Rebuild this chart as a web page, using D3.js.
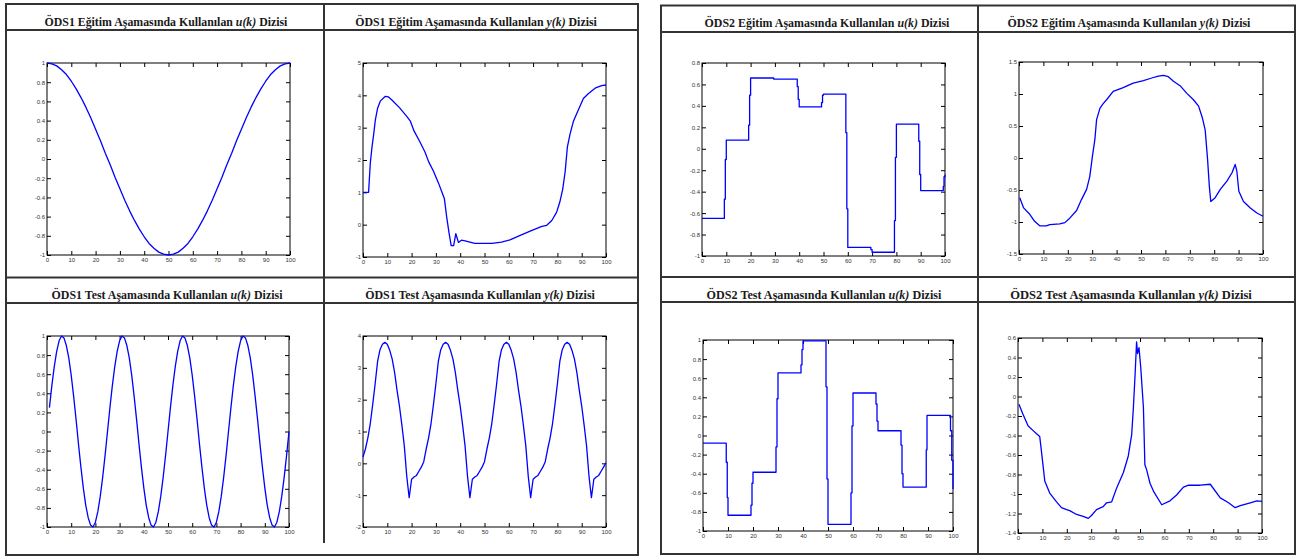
<!DOCTYPE html>
<html>
<head>
<meta charset="utf-8">
<script src="https://cdn.jsdelivr.net/npm/d3@7"></script>
<style>
  body { margin: 0; background: #fff; }
</style>
</head>
<body>
<div id="chart"></div>
<script>
/* ÖDS1 / ÖDS2 input-output sequences, 8 small MATLAB-style plots in two tables */

/* --- data --- */
const xTicks = [0, 10, 20, 30, 40, 50, 60, 70, 80, 90, 100];
const ticksU1 = [-1, -0.8, -0.6, -0.4, -0.2, 0, 0.2, 0.4, 0.6, 0.8, 1];
const ticksY1Train = [-1, 0, 1, 2, 3, 4, 5];
const ticksU2Train = [-1, -0.8, -0.6, -0.4, -0.2, 0, 0.2, 0.4, 0.6, 0.8];
const ticksY2Train = [-1.5, -1, -0.5, 0, 0.5, 1, 1.5];
const ticksY1Test = [-2, -1, 0, 1, 2, 3, 4];
const ticksY2Test = [-1.4, -1.2, -1, -0.8, -0.6, -0.4, -0.2, 0, 0.2, 0.4, 0.6];

// [k, value]
const ods1TrainU = [[0,1.00],[2,0.99],[4,0.97],[6,0.93],[8,0.88],[10,0.81],[12,0.73],[14,0.64],[16,0.54],[18,0.43],
  [20,0.31],[22,0.19],[24,0.06],[26,-0.06],[28,-0.19],[30,-0.31],[32,-0.43],[34,-0.54],[36,-0.64],[38,-0.73],
  [40,-0.81],[42,-0.88],[44,-0.93],[46,-0.97],[48,-0.99],[50,-1.00],[52,-0.99],[54,-0.97],[56,-0.93],[58,-0.88],
  [60,-0.81],[62,-0.73],[64,-0.64],[66,-0.54],[68,-0.43],[70,-0.31],[72,-0.19],[74,-0.06],[76,0.06],[78,0.19],
  [80,0.31],[82,0.43],[84,0.54],[86,0.64],[88,0.73],[90,0.81],[92,0.88],[94,0.93],[96,0.97],[98,0.99],[100,1.00]];

const ods1TrainY = [[0,1.0],[2.3,1.0],[3.0,1.9],[3.7,2.4],[4.4,2.8],[5.1,3.25],[6.0,3.6],[7.1,3.82],[9.2,3.97],
  [10.5,3.95],[12,3.85],[15,3.62],[18,3.35],[19.5,3.2],[21,2.9],[23.5,2.55],[25.5,2.25],[27,1.95],[29,1.65],
  [31,1.3],[32.5,1.0],[33.5,0.8],[34.5,0.2],[35.5,-0.3],[36.3,-0.65],[37.3,-0.65],[38.2,-0.28],[39.3,-0.55],
  [40.5,-0.48],[42,-0.5],[46,-0.58],[53,-0.58],[57,-0.54],[60.5,-0.47],[64.7,-0.33],[68.8,-0.2],[73.6,-0.05],
  [75.6,-0.02],[77.7,0.13],[79.7,0.39],[81,0.7],[82.2,1.1],[83.2,1.65],[84.1,2.4],[85.2,2.8],[86.6,3.2],
  [88.6,3.55],[90.7,3.9],[92.7,4.05],[95.5,4.22],[98.2,4.3],[100,4.32]];

// step levels (value holds from k until the next point)
const ods2TrainU = [[0,-0.65],[9.2,-0.47],[9.6,-0.1],[10,0.08],[19.2,0.22],[19.6,0.5],[20,0.66],[29.5,0.65],
  [39.2,0.58],[39.6,0.46],[40,0.39],[49.2,0.43],[49.6,0.5],[50,0.51],[59.2,0.15],[59.6,-0.56],[60,-0.92],
  [69.5,-0.94],[70,-0.965],[79.2,-0.67],[79.6,-0.08],[80,0.23],[89.2,0.07],[89.6,-0.24],[90,-0.39],
  [99.3,-0.35],[99.6,-0.26],[100,-0.24]];

const ods2TrainY = [[0.3,-0.62],[1.9,-0.78],[4.4,-0.88],[6.4,-0.99],[8.5,-1.06],[11.2,-1.06],[12.6,-1.04],
  [16.7,-1.03],[18.8,-1.01],[20.8,-0.94],[23.6,-0.82],[25.6,-0.65],[27.7,-0.49],[29,-0.29],[30.1,0.03],
  [31.1,0.29],[31.8,0.6],[33.2,0.78],[34.5,0.85],[35.9,0.91],[38.6,1.04],[42.7,1.1],[46.8,1.17],[51,1.21],
  [54.4,1.25],[57.1,1.28],[59.2,1.29],[61.2,1.27],[63.3,1.2],[66,1.13],[68.8,1.01],[71.5,0.91],[73.6,0.81],
  [75.2,0.62],[76.3,0.44],[77.3,-0.03],[78,-0.44],[78.6,-0.68],[80.4,-0.62],[82.5,-0.49],[85.2,-0.36],
  [87.3,-0.23],[88.6,-0.1],[89.3,-0.21],[90.1,-0.52],[92,-0.68],[94.8,-0.78],[97.5,-0.86],[100,-0.91]];

// k = 1..100
const ods1TestU = [0.25,0.48,0.68,0.84,0.95,1.00,0.98,0.90,0.77,0.59,0.37,0.13,-0.13,-0.37,-0.59,-0.77,-0.90,-0.98,-1.00,-0.95,-0.84,-0.68,-0.48,-0.25,0.00,
  0.25,0.48,0.68,0.84,0.95,1.00,0.98,0.90,0.77,0.59,0.37,0.13,-0.13,-0.37,-0.59,-0.77,-0.90,-0.98,-1.00,-0.95,-0.84,-0.68,-0.48,-0.25,0.00,
  0.25,0.48,0.68,0.84,0.95,1.00,0.98,0.90,0.77,0.59,0.37,0.13,-0.13,-0.37,-0.59,-0.77,-0.90,-0.98,-1.00,-0.95,-0.84,-0.68,-0.48,-0.25,0.00,
  0.25,0.48,0.68,0.84,0.95,1.00,0.98,0.90,0.77,0.59,0.37,0.13,-0.13,-0.37,-0.59,-0.77,-0.90,-0.98,-1.00,-0.95,-0.84,-0.68,-0.48,-0.25,0.00];

// k = 0..100
const ods1TestY = [0.2,
  0.45,0.8,1.25,1.85,2.5,3.2,3.57,3.74,3.8,3.74,3.55,3.28,2.86,2.3,1.8,1.2,0.55,-0.4,-1.08,-0.5,-0.43,-0.38,-0.25,-0.12,0.05,
  0.45,0.8,1.25,1.85,2.5,3.2,3.57,3.74,3.8,3.74,3.55,3.28,2.86,2.3,1.8,1.2,0.55,-0.4,-1.08,-0.5,-0.43,-0.38,-0.25,-0.12,0.05,
  0.45,0.8,1.25,1.85,2.5,3.2,3.57,3.74,3.8,3.74,3.55,3.28,2.86,2.3,1.8,1.2,0.55,-0.4,-1.08,-0.5,-0.43,-0.38,-0.25,-0.12,0.05,
  0.45,0.8,1.25,1.85,2.5,3.2,3.57,3.74,3.8,3.74,3.55,3.28,2.86,2.3,1.8,1.2,0.55,-0.4,-1.08,-0.5,-0.43,-0.38,-0.25,-0.12,0.02];

const ods2TestU = [[0,-0.08],[9.3,-0.28],[9.7,-0.65],[10,-0.835],[19.2,-0.73],[19.6,-0.5],[20,-0.385],
  [29.2,-0.12],[29.6,0.385],[30,0.655],[39.2,0.74],[39.6,0.9],[40,0.99],[49.2,0.51],[49.6,-0.455],[50,-0.93],
  [59.2,-0.6],[59.6,0.1],[60,0.445],[69.2,0.33],[69.6,0.15],[70,0.05],[79.2,-0.1],[79.6,-0.4],[80,-0.54],
  [89.3,-0.15],[89.6,0.21],[99,0.05],[99.5,-0.26],[100,-0.56]];

const ods2TestY = [[0.4,-0.08],[2,-0.18],[4.1,-0.3],[6.2,-0.35],[7.5,-0.38],[8.9,-0.41],[9.6,-0.56],[11,-0.87],
  [13,-0.99],[15.8,-1.08],[17.8,-1.14],[19.9,-1.16],[21.2,-1.17],[24,-1.21],[26.7,-1.23],[28.8,-1.25],
  [30.1,-1.22],[32.2,-1.16],[34.9,-1.13],[36.3,-1.09],[38.4,-1.08],[40.4,-0.94],[43.2,-0.78],[45.2,-0.61],
  [46.6,-0.39],[47.3,-0.11],[48,0.23],[48.6,0.56],[49,0.44],[49.6,0.5],[50.3,0.3],[51.4,-0.11],[52,-0.7],
  [52.7,-0.75],[54.1,-0.89],[55.5,-0.97],[58.9,-1.11],[62.3,-1.07],[65,-1.01],[67.8,-0.93],[69.9,-0.91],
  [74.7,-0.91],[78.8,-0.9],[82.9,-1.04],[86.3,-1.09],[89,-1.14],[91.1,-1.12],[95.2,-1.09],[97.9,-1.07],[100,-1.075]];

/* --- page --- */
const width = 1298, height = 557;
const border = "#333";

const svg = d3.select("#chart")
    .append("svg")
    .attr("width", width)
    .attr("height", height)
    .style("display", "block");

svg.append("rect").attr("width", width).attr("height", height).attr("fill", "#fff");

/* two tables, each 2x2 with a title row on top of every plot */
const tables = [
    { x0: 6, x1: 638, xm: 324, y0: 4, yt1: 30, ym: 277.5, yt2: 303, y1: 555, xmEnd: 543 },
    { x0: 661, x1: 1295, xm: 978, y0: 5.5, yt1: 32, ym: 277, yt2: 302, y1: 554, xmEnd: 554 }
];

tables.forEach(t => {
    let g = svg.append("g")
        .attr("stroke", border)
        .attr("stroke-width", 2)
        .attr("fill", "none");
    g.append("rect")
        .attr("x", t.x0).attr("y", t.y0)
        .attr("width", t.x1 - t.x0).attr("height", t.y1 - t.y0);
    [t.yt1, t.ym, t.yt2].forEach(yy => {
        g.append("line").attr("x1", t.x0).attr("x2", t.x1).attr("y1", yy).attr("y2", yy);
    });
    g.append("line").attr("x1", t.xm).attr("x2", t.xm).attr("y1", t.y0).attr("y2", t.xmEnd);
});

/* panels: plot box, y range, title */
const panels = [
    { left: 47, right: 290, top: 63, bottom: 255, yDomain: [-1, 1], yTicks: ticksU1,
      data: ods1TrainU, step: false, cx: 166, ty: 26, tw: 243, title: ["ÖDS1 Eğitim Aşamasında Kullanılan ", "u(k)", " Dizisi"] },
    { left: 363, right: 606, top: 63, bottom: 257, yDomain: [-1, 5], yTicks: ticksY1Train,
      data: ods1TrainY, step: false, cx: 476, ty: 26, tw: 242, title: ["ÖDS1 Eğitim Aşamasında Kullanılan ", "y(k)", " Dizisi"] },
    { left: 702, right: 945, top: 63, bottom: 256, yDomain: [-1, 0.8], yTicks: ticksU2Train,
      data: ods2TrainU, step: true, cx: 827, ty: 27, tw: 245, title: ["ÖDS2 Eğitim Aşamasında Kullanılan ", "u(k)", " Dizisi"] },
    { left: 1019, right: 1263, top: 62, bottom: 254, yDomain: [-1.5, 1.5], yTicks: ticksY2Train,
      data: ods2TrainY, step: false, cx: 1129, ty: 27, tw: 243, title: ["ÖDS2 Eğitim Aşamasında Kullanılan ", "y(k)", " Dizisi"] },
    { left: 47, right: 289, top: 336, bottom: 527, yDomain: [-1, 1], yTicks: ticksU1,
      data: ods1TestU.map((v, i) => [i + 1, v]), step: false, cx: 167, ty: 299, tw: 231, title: ["ÖDS1 Test Aşamasında Kullanılan ", "u(k)", " Dizisi"] },
    { left: 363, right: 606, top: 336, bottom: 527, yDomain: [-2, 4], yTicks: ticksY1Test,
      data: ods1TestY.map((v, i) => [i, v]), step: false, cx: 480, ty: 299, tw: 230, title: ["ÖDS1 Test Aşamasında Kullanılan ", "y(k)", " Dizisi"] },
    { left: 703, right: 953, top: 340, bottom: 531, yDomain: [-1, 1], yTicks: ticksU1,
      data: ods2TestU, step: true, cx: 824, ty: 299, tw: 235, title: ["ÖDS2 Test Aşamasında Kullanılan ", "u(k)", " Dizisi"] },
    { left: 1018, right: 1262, top: 338, bottom: 533, yDomain: [-1.4, 0.6], yTicks: ticksY2Test,
      data: ods2TestY, step: false, cx: 1131, ty: 299, tw: 242, title: ["ÖDS2 Test Aşamasında Kullanılan ", "y(k)", " Dizisi"] }
];

const fmt = d => String(+d.toFixed(1)); // MATLAB style, plain hyphen minus

function styleAxis(a) {
    a.select(".domain").remove();
    a.attr("font-size", null).attr("font-family", null);
    a.selectAll(".tick line").attr("stroke", "#000").attr("stroke-width", 1);
    a.selectAll(".tick text")
        .attr("fill", "#333")
        .style("font-family", "'Liberation Sans', Arial, sans-serif")
        .style("font-size", "6px");
}

panels.forEach(p => {
    let x = d3.scaleLinear().domain([0, 100]).range([p.left, p.right]);
    let y = d3.scaleLinear().domain(p.yDomain).range([p.bottom, p.top]);

    let g = svg.append("g");

    // title: condensed to the cell width with a horizontal scale
    let tg = g.append("g");
    let t = tg.append("text")
        .attr("x", 0)
        .attr("y", 0)
        .attr("text-anchor", "middle")
        .style("font-family", "'Liberation Serif', 'Times New Roman', serif")
        .style("font-weight", "bold")
        .style("font-size", "13px")
        .attr("fill", "#1a1a1a");
    t.append("tspan").text(p.title[0]);
    t.append("tspan").style("font-style", "italic").text(p.title[1]);
    t.append("tspan").text(p.title[2]);
    let natural = t.node().getComputedTextLength();
    tg.attr("transform", `translate(${p.cx},${p.ty}) scale(${p.tw / natural},1)`);

    // axes with inward ticks on all four sides
    g.append("g")
        .attr("transform", `translate(0,${p.bottom})`)
        .call(d3.axisBottom(x).tickValues(xTicks).tickSize(-4).tickPadding(3).tickFormat(fmt))
        .call(styleAxis);
    g.append("g")
        .attr("transform", `translate(0,${p.top})`)
        .call(d3.axisTop(x).tickValues(xTicks).tickSize(-4).tickFormat(""))
        .call(styleAxis);
    g.append("g")
        .attr("transform", `translate(${p.left},0)`)
        .call(d3.axisLeft(y).tickValues(p.yTicks).tickSize(-4).tickPadding(2).tickFormat(fmt))
        .call(styleAxis);
    g.append("g")
        .attr("transform", `translate(${p.right},0)`)
        .call(d3.axisRight(y).tickValues(p.yTicks).tickSize(-4).tickFormat(""))
        .call(styleAxis);

    // plot frame
    g.append("rect")
        .attr("x", p.left).attr("y", p.top)
        .attr("width", p.right - p.left).attr("height", p.bottom - p.top)
        .attr("fill", "none")
        .attr("stroke", "#000")
        .attr("stroke-width", 1);

    // series line
    let line = d3.line()
        .x(d => x(d[0]))
        .y(d => y(d[1]))
        .curve(p.step ? d3.curveStepAfter : d3.curveLinear);

    g.append("path")
        .datum(p.data)
        .attr("d", line)
        .attr("fill", "none")
        .attr("stroke", "#0000ff")
        .attr("stroke-width", 1.3)
        .attr("stroke-linejoin", "round");
});
</script>
</body>
</html>
